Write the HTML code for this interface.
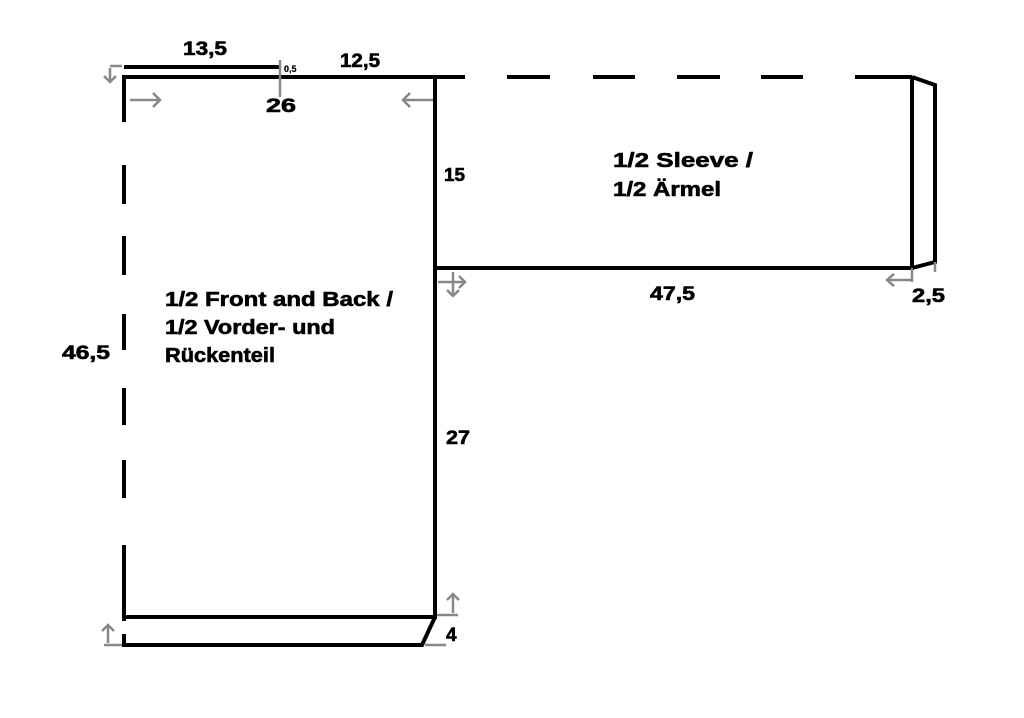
<!DOCTYPE html>
<html><head><meta charset="utf-8"><style>
html,body{margin:0;padding:0;background:#fff;width:1024px;height:718px;overflow:hidden}
svg text{font-family:"Liberation Sans",sans-serif;font-weight:bold;fill:#000;stroke:#000;stroke-width:0.6}
</style></head><body>
<svg width="1024" height="718" viewBox="0 0 1024 718" xmlns="http://www.w3.org/2000/svg">
<g stroke="#000" stroke-width="4" fill="none" stroke-linecap="butt">
<line x1="124" y1="67" x2="280" y2="67"/>
<line x1="122" y1="77" x2="437" y2="77"/>
<line x1="124" y1="75" x2="124" y2="122"/>
<line x1="124" y1="165" x2="124" y2="204"/>
<line x1="124" y1="236" x2="124" y2="275"/>
<line x1="124" y1="314" x2="124" y2="350"/>
<line x1="124" y1="388" x2="124" y2="425"/>
<line x1="124" y1="460" x2="124" y2="498"/>
<line x1="124" y1="545" x2="124" y2="621"/>
<line x1="124" y1="634" x2="124" y2="647"/>
<line x1="435" y1="77" x2="435" y2="619"/>
<line x1="122" y1="617" x2="437" y2="617"/>
<polyline points="122,645 422,645 435,617"/>
<line x1="430" y1="77" x2="465" y2="77"/>
<line x1="507" y1="77" x2="550" y2="77"/>
<line x1="593" y1="77" x2="635" y2="77"/>
<line x1="677" y1="77" x2="720" y2="77"/>
<line x1="761" y1="77" x2="803" y2="77"/>
<line x1="855" y1="77" x2="912" y2="77"/>
<line x1="435" y1="268" x2="914" y2="268"/>
<line x1="912" y1="77" x2="912" y2="270"/>
<polyline points="912,77 935,85 935,262 912,268"/>
</g>
<g stroke="#888" stroke-width="2.5" fill="none">
<line x1="280" y1="60" x2="280" y2="97"/>
<path d="M110 66H122 M110 68V82 M104 76L110 82L116 76"/>
<path d="M130 100H160 M153 93L160 100L153 107"/>
<path d="M403 100H433 M410 93L403 100L410 107"/>
<path d="M438 282H465 M459 276L465 282L459 288 M453 272V296 M447 290L453 296L459 290"/>
<path d="M887 280H912 M894 274L887 280L894 286 M912 268V282"/>
<line x1="935" y1="262" x2="935" y2="272"/>
<path d="M104 645H122 M108 643V625 M102 631L108 625L114 631"/>
<path d="M437 615H458 M453 613V594 M447 600L453 594L459 600"/>
<line x1="425" y1="645" x2="446" y2="645"/>
</g>
<text x="183" y="55" font-size="19" textLength="44" lengthAdjust="spacingAndGlyphs">13,5</text>
<text x="340" y="67" font-size="19" textLength="40" lengthAdjust="spacingAndGlyphs">12,5</text>
<text x="284" y="72" font-size="9" style="stroke-width:0.2">0,5</text>
<text x="266" y="112" font-size="19" textLength="30" lengthAdjust="spacingAndGlyphs">26</text>
<text x="444" y="181" font-size="18" textLength="21" lengthAdjust="spacingAndGlyphs">15</text>
<text x="613" y="167" font-size="20" textLength="140" lengthAdjust="spacingAndGlyphs">1/2 Sleeve /</text>
<text x="613" y="196" font-size="20" textLength="108" lengthAdjust="spacingAndGlyphs">1/2 Ärmel</text>
<text x="650" y="300" font-size="19" textLength="45" lengthAdjust="spacingAndGlyphs">47,5</text>
<text x="912" y="302" font-size="19" textLength="33" lengthAdjust="spacingAndGlyphs">2,5</text>
<text x="165" y="306" font-size="20" textLength="228" lengthAdjust="spacingAndGlyphs">1/2 Front and Back /</text>
<text x="165" y="334" font-size="20" textLength="170" lengthAdjust="spacingAndGlyphs">1/2 Vorder- und</text>
<text x="165" y="362" font-size="20" textLength="110" lengthAdjust="spacingAndGlyphs">Rückenteil</text>
<text x="62" y="359" font-size="19" textLength="48" lengthAdjust="spacingAndGlyphs">46,5</text>
<text x="446" y="444" font-size="19" textLength="24" lengthAdjust="spacingAndGlyphs">27</text>
<text x="446" y="641" font-size="19">4</text>
</svg>
</body></html>
